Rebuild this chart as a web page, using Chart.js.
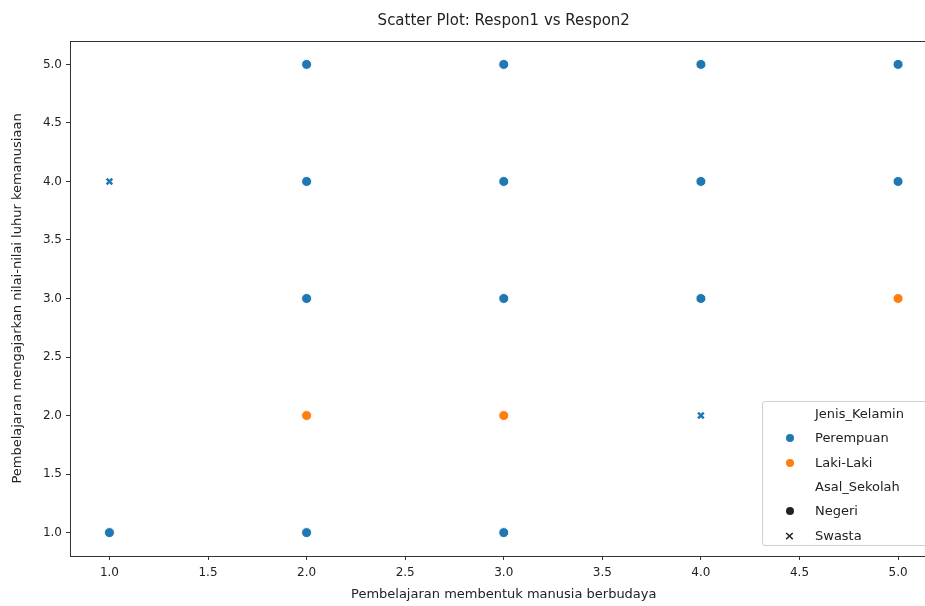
<!DOCTYPE html>
<html>
<head>
<meta charset="utf-8">
<script src="https://cdn.jsdelivr.net/npm/chart.js@4.4.0/dist/chart.umd.min.js"></script>
<style>
  html, body { margin: 0; padding: 0; background: #fff; overflow: hidden; }
  #wrap { position: relative; width: 944px; height: 606px; }
  #c { display: block; width: 944px; height: 606px; }
  #legend {
    position: absolute; left: 762px; top: 401px; width: 190px; height: 145px;
    border: 1px solid #d0d0d0; border-radius: 3px; background: rgba(255,255,255,0.85);
    font-family: "DejaVu Sans", sans-serif; font-size: 13px; color: #222; box-sizing: border-box;
  }
  .row { position: absolute; left: 0; height: 20px; line-height: 20px; white-space: nowrap; }
  .row span.t { position: absolute; left: 52px; }
  .mk { position: absolute; left: 23px; top: 6px; width: 8px; height: 8px; border-radius: 50%; }
  .mkx { position: absolute; left: 21px; top: 0px; font-size: 13px; font-weight: bold; }
</style>
</head>
<body>
<div id="wrap">
  <canvas id="c" width="944" height="606"></canvas>
  <div id="legend"></div>
</div>
<script>
// ---- Data ----
const chartTitle = "Scatter Plot: Respon1 vs Respon2";
const xLabel = "Pembelajaran membentuk manusia berbudaya";
const yLabel = "Pembelajaran mengajarkan nilai-nilai luhur kemanusiaan";
const tickValues = [1.0, 1.5, 2.0, 2.5, 3.0, 3.5, 4.0, 4.5, 5.0];

// Perempuan / Negeri (blue circles)
const perempuanNegeriX = [2, 3, 4, 5, 2, 3, 4, 5, 2, 3, 4, 1, 2, 3];
const perempuanNegeriY = [5, 5, 5, 5, 4, 4, 4, 4, 3, 3, 3, 1, 1, 1];
// Laki-Laki / Negeri (orange circles)
const lakiNegeriX = [2, 3, 5];
const lakiNegeriY = [2, 2, 3];
// Perempuan / Swasta (blue X)
const perempuanSwastaX = [1, 4];
const perempuanSwastaY = [4, 2];

const legendHue = ["Perempuan", "Laki-Laki"];
const legendStyle = ["Negeri", "Swasta"];
const hueTitle = "Jenis_Kelamin";
const styleTitle = "Asal_Sekolah";

const BLUE = "#1f77b4";
const ORANGE = "#ff7f0e";

function pts(xs, ys) { return xs.map((x, i) => ({ x: x, y: ys[i] })); }

const framePlugin = {
  id: 'frame',
  afterDraw(chart) {
    const { ctx, chartArea: a } = chart;
    ctx.save();
    ctx.strokeStyle = '#333';
    ctx.lineWidth = 1;
    ctx.strokeRect(Math.round(a.left) + 0.5, Math.round(a.top) + 0.5, Math.round(a.right - a.left), Math.round(a.bottom - a.top));
    ctx.fillStyle = '#222';
    ctx.font = '15px "DejaVu Sans", sans-serif';
    ctx.textAlign = 'center';
    ctx.textBaseline = 'middle';
    ctx.fillText(chartTitle, (a.left + a.right) / 2, 21);
    ctx.restore();
  }
};

const tickFont = { family: '"DejaVu Sans", sans-serif', size: 12 };
const titleFont = { family: '"DejaVu Sans", sans-serif', size: 13 };

new Chart(document.getElementById('c'), {
  type: 'scatter',
  data: {
    datasets: [
      {
        label: 'Perempuan Negeri',
        data: pts(perempuanNegeriX, perempuanNegeriY),
        backgroundColor: BLUE, borderColor: '#ffffff', borderWidth: 1,
        pointRadius: 5, pointStyle: 'circle'
      },
      {
        label: 'Laki-Laki Negeri',
        data: pts(lakiNegeriX, lakiNegeriY),
        backgroundColor: ORANGE, borderColor: '#ffffff', borderWidth: 1,
        pointRadius: 5, pointStyle: 'circle'
      },
      {
        label: 'Perempuan Swasta',
        data: pts(perempuanSwastaX, perempuanSwastaY),
        backgroundColor: BLUE, borderColor: BLUE, borderWidth: 2.5,
        pointRadius: 4, pointStyle: 'crossRot'
      }
    ]
  },
  options: {
    responsive: false,
    maintainAspectRatio: false,
    animation: false,
    events: [],
    layout: { padding: { top: 41, right: 1, left: 0, bottom: 0 } },
    plugins: { legend: { display: false }, tooltip: { enabled: false }, title: { display: false } },
    scales: {
      x: {
        type: 'linear', min: 0.8, max: 5.2,
        afterBuildTicks(s) { s.ticks = tickValues.map(v => ({ value: v })); },
        afterFit(s) { s.height = 50; },
        ticks: { font: tickFont, color: '#222', padding: 6, maxRotation: 0, callback: v => v.toFixed(1) },
        grid: { display: true, drawOnChartArea: false, drawTicks: true, tickLength: 4, color: '#333' },
        border: { display: true, color: '#333' },
        title: { display: true, text: xLabel, font: titleFont, color: '#222', padding: { top: 2, bottom: 4 } }
      },
      y: {
        type: 'linear', min: 0.8, max: 5.2,
        afterBuildTicks(s) { s.ticks = tickValues.map(v => ({ value: v })); },
        afterFit(s) { s.width = 70; },
        ticks: { font: tickFont, color: '#222', padding: 4, callback: v => v.toFixed(1) },
        grid: { display: true, drawOnChartArea: false, drawTicks: true, tickLength: 4, color: '#333' },
        border: { display: true, color: '#333' },
        title: { display: true, text: yLabel, font: titleFont, color: '#222', padding: { top: 10, bottom: 4 } }
      }
    }
  },
  plugins: [framePlugin]
});

// ---- Legend (HTML) ----
const lg = document.getElementById('legend');
const rows = [
  { text: hueTitle, mk: null },
  { text: legendHue[0], mk: 'dot', color: BLUE },
  { text: legendHue[1], mk: 'dot', color: ORANGE },
  { text: styleTitle, mk: null },
  { text: legendStyle[0], mk: 'dot', color: '#222' },
  { text: legendStyle[1], mk: 'x', color: '#222' }
];
rows.forEach((r, i) => {
  const d = document.createElement('div');
  d.className = 'row';
  d.style.top = (2 + i * 24.3) + 'px';
  d.style.width = '100%';
  if (r.mk === 'dot') {
    const m = document.createElement('span'); m.className = 'mk'; m.style.background = r.color; d.appendChild(m);
  } else if (r.mk === 'x') {
    const m = document.createElement('span'); m.className = 'mkx'; m.style.color = r.color; m.textContent = '×'; d.appendChild(m);
  }
  const t = document.createElement('span'); t.className = 't'; t.textContent = r.text; d.appendChild(t);
  lg.appendChild(d);
});
</script>
</body>
</html>
